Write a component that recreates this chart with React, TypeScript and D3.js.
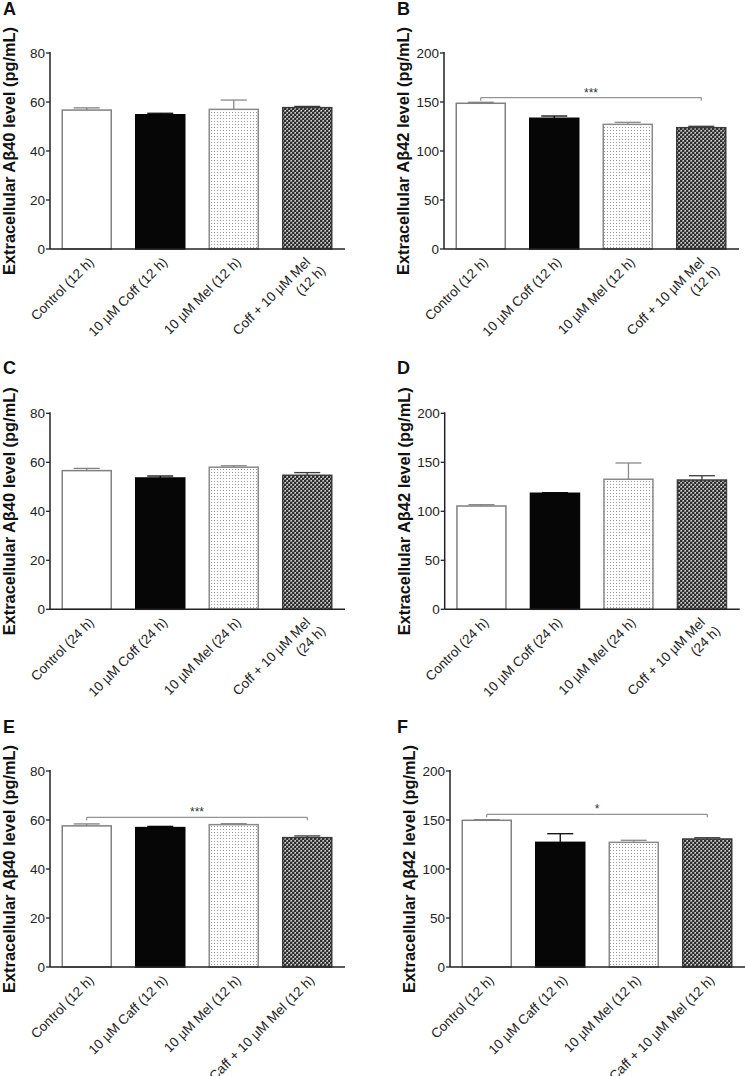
import React from "react";
import * as d3 from "d3";

const labels12Coff = ["Control (12 h)", "10 µM Coff (12 h)", "10 µM Mel (12 h)", "Coff + 10 µM Mel|(12 h)"];
const labels24Coff = ["Control (24 h)", "10 µM Coff (24 h)", "10 µM Mel (24 h)", "Coff + 10 µM Mel|(24 h)"];
const labels12Caff = ["Control (12 h)", "10 µM Caff (12 h)", "10 µM Mel (12 h)", "Caff + 10 µM Mel (12 h)"];

const valuesA = [56.7, 54.8, 57.0, 57.7];
const errorsA = [0.9, 0.6, 3.8, 0.5];
const valuesB = [148.7, 133.4, 127.2, 123.8];
const errorsB = [1.0, 2.3, 2.1, 1.4];
const valuesC = [56.6, 53.6, 58.0, 54.7];
const errorsC = [0.9, 0.8, 0.6, 1.1];
const valuesD = [105.4, 118.4, 132.7, 131.9];
const errorsD = [1.3, 0.6, 16.6, 4.4];
const valuesE = [57.6, 56.9, 58.1, 52.8];
const errorsE = [0.8, 0.5, 0.4, 0.7];
const valuesF = [149.7, 127.2, 127.2, 130.6];
const errorsF = [0.6, 8.8, 2.1, 1.3];

const ticks40 = [0, 20, 40, 60, 80];
const ticks42 = [0, 50, 100, 150, 200];

const title40 = "Extracellular Aβ40 level (pg/mL)";
const title42 = "Extracellular Aβ42 level (pg/mL)";

const FONT = "Arial, 'Liberation Sans', Helvetica, sans-serif";

const fills = ["#ffffff", "#060606", "url(#dots)", "url(#checker)"];
const strokes = ["#808080", "#060606", "#8a8a8a", "#3a3a3a"];

type PanelProps = {
  letter: string;
  letterX: number;
  letterY: number;
  axisX: number;
  top: number;
  bottom: number;
  yMax: number;
  ticks: number[];
  values: number[];
  errors: number[];
  labels: string[];
  title: string;
  bracket?: { y: number; text: string };
};

function Panel(p: PanelProps) {
  const width = 295;
  const y = d3.scaleLinear().domain([0, p.yMax]).range([p.bottom, p.top]);
  const idx = p.values.map((_, i) => i);
  const x = d3
    .scaleBand<number>()
    .domain(idx)
    .range([p.axisX, p.axisX + 294])
    .paddingInner(1 / 3)
    .paddingOuter(1 / 6);
  const bw = x.bandwidth();
  const cap = 26;
  return (
    <g>
      <text x={p.letterX} y={p.letterY} fontFamily={FONT} fontWeight="bold" fontSize={18} fill="#111">
        {p.letter}
      </text>
      <text
        transform={`translate(${p.axisX - 35},${(p.top + p.bottom) / 2}) rotate(-90)`}
        textAnchor="middle"
        fontFamily={FONT}
        fontWeight="bold"
        fontSize={17}
        textLength={248}
        lengthAdjust="spacingAndGlyphs"
        fill="#111"
      >
        {p.title}
      </text>
      {idx.map((i) => {
        const x0 = x(i)!;
        const cx = x0 + bw / 2;
        const yv = y(p.values[i]);
        const ye = y(p.values[i] + p.errors[i]);
        return (
          <g key={i}>
            <rect x={x0} y={yv} width={bw} height={p.bottom - yv} fill={fills[i]} stroke={strokes[i]} strokeWidth={1.5} />
            <line x1={cx} x2={cx} y1={yv} y2={ye} stroke={strokes[i]} strokeWidth={1.3} />
            <line x1={cx - cap / 2} x2={cx + cap / 2} y1={ye} y2={ye} stroke={strokes[i]} strokeWidth={1.3} />
          </g>
        );
      })}
      {p.bracket && (
        <g>
          <path
            d={`M${x(0)! + bw / 2},${p.bracket.y + 3}V${p.bracket.y}H${x(3)! + bw / 2}V${p.bracket.y + 3}`}
            fill="none"
            stroke="#7a7a7a"
            strokeWidth={1}
          />
          <text
            x={(x(0)! + x(3)! + bw) / 2}
            y={p.bracket.y - 1}
            textAnchor="middle"
            fontFamily={FONT}
            fontSize={12}
            fill="#333"
          >
            {p.bracket.text}
          </text>
        </g>
      )}
      <line x1={p.axisX} x2={p.axisX} y1={p.top - 1} y2={p.bottom} stroke="#222" strokeWidth={1.5} />
      <line x1={p.axisX} x2={p.axisX + width} y1={p.bottom} y2={p.bottom} stroke="#222" strokeWidth={1.5} />
      {p.ticks.map((t) => (
        <g key={t}>
          <line x1={p.axisX - 4} x2={p.axisX} y1={y(t)} y2={y(t)} stroke="#222" strokeWidth={1.3} />
          <text
            x={p.axisX - 5}
            y={y(t)}
            dy="0.36em"
            textAnchor="end"
            fontFamily={FONT}
            fontSize={13.5}
            fill="#222"
          >
            {t}
          </text>
        </g>
      ))}
      {idx.map((i) => {
        const cx = x(i)! + bw / 2;
        const lines = p.labels[i].split("|");
        const two = lines.length > 1;
        const ax = cx + (two ? 4 : 8);
        const ay = p.bottom + 14;
        return (
          <text
            key={i}
            transform={`translate(${ax},${ay}) rotate(-45)`}
            textAnchor="end"
            fontFamily={FONT}
            fontSize={13.5}
            fill="#222"
          >
            {lines.map((l, j) => (
              <tspan key={j} x={j === 0 ? 0 : 4.7} y={j * 16.5}>
                {l}
              </tspan>
            ))}
          </text>
        );
      })}
    </g>
  );
}

export default function App() {
  return (
    <svg
      width={745}
      height={1076}
      style={{ position: "absolute", left: 0, top: 0, background: "#fff" }}
    >
      <defs>
        <pattern id="dots" width={3} height={3} patternUnits="userSpaceOnUse">
          <rect width={3} height={3} fill="#ffffff" />
          <rect x={1} y={1} width={1} height={1} fill="#9a9a9a" />
        </pattern>
        <pattern id="checker" width={4} height={4} patternUnits="userSpaceOnUse">
          <rect width={4} height={4} fill="#8c8c8c" />
          <rect x={0} y={0} width={2} height={2} fill="#2e2e2e" />
          <rect x={2} y={2} width={2} height={2} fill="#2e2e2e" />
          <rect x={3} y={0} width={1} height={1} fill="#d8d8d8" />
          <rect x={1} y={2} width={1} height={1} fill="#d8d8d8" />
        </pattern>
      </defs>
      <rect width={745} height={1076} fill="#fff" />
      <Panel letter="A" letterX={3} letterY={15} axisX={50} top={53} bottom={249} yMax={80} ticks={ticks40}
        values={valuesA} errors={errorsA} labels={labels12Coff} title={title40} />
      <Panel letter="B" letterX={397} letterY={15} axisX={444} top={53} bottom={249} yMax={200} ticks={ticks42}
        values={valuesB} errors={errorsB} labels={labels12Coff} title={title42} bracket={{ y: 97.7, text: "***" }} />
      <Panel letter="C" letterX={3} letterY={374} axisX={50} top={413.3} bottom={609.3} yMax={80} ticks={ticks40}
        values={valuesC} errors={errorsC} labels={labels24Coff} title={title40} />
      <Panel letter="D" letterX={397} letterY={374} axisX={444.7} top={413.3} bottom={609.3} yMax={200} ticks={ticks42}
        values={valuesD} errors={errorsD} labels={labels24Coff} title={title42} />
      <Panel letter="E" letterX={3} letterY={733} axisX={50} top={771} bottom={967} yMax={80} ticks={ticks40}
        values={valuesE} errors={errorsE} labels={labels12Caff} title={title40} bracket={{ y: 817.3, text: "***" }} />
      <Panel letter="F" letterX={397} letterY={733} axisX={450} top={771} bottom={967} yMax={200} ticks={ticks42}
        values={valuesF} errors={errorsF} labels={labels12Caff} title={title42} bracket={{ y: 814.3, text: "*" }} />
    </svg>
  );
}
